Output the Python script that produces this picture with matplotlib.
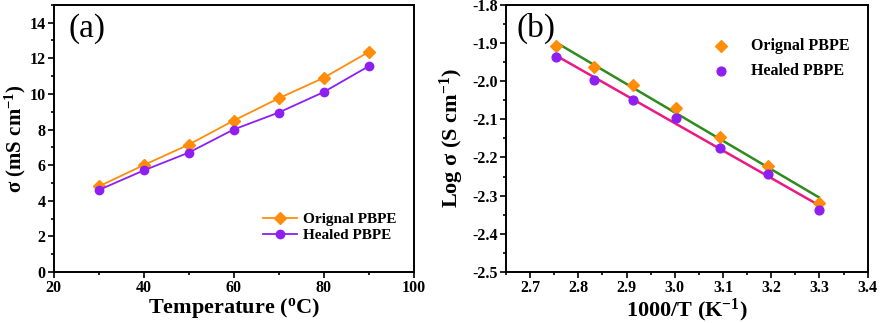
import numpy as np
import matplotlib.pyplot as plt
from matplotlib.ticker import MultipleLocator

plt.rcParams['font.family'] = ['Liberation Serif', 'DejaVu Serif']
plt.rcParams['font.weight'] = 'bold'

# conductivity vs temperature
temp = np.array([30, 40, 50, 60, 70, 80, 90])
sigma_orig = np.array([4.8, 6.0, 7.15, 8.5, 9.75, 10.9, 12.35])      # mS/cm
sigma_healed = np.array([4.6, 5.7, 6.7, 8.0, 8.95, 10.1, 11.55])     # mS/cm

# Arrhenius form
inv_t = 1000.0 / (temp + 273.15)
log_orig = np.log10(sigma_orig * 1e-3)
log_healed = np.log10(sigma_healed * 1e-3)

c_orig = '#ff8c0a'
c_heal = '#8f1ef0'
c_fit_orig = '#2e8b1e'
c_fit_heal = '#ea1a82'

fig = plt.figure(figsize=(8.8, 3.23), dpi=100)
ax1 = fig.add_axes([0.061, 0.158, 0.409, 0.827])
ax2 = fig.add_axes([0.575, 0.158, 0.411, 0.827])


def style(ax):
    for s in ax.spines.values():
        s.set_linewidth(1.4)
    ax.tick_params(which='both', direction='out', top=False, right=False,
                   labelsize=11.5, width=1.2, pad=2)
    ax.tick_params(which='major', length=4)
    ax.tick_params(which='minor', length=2.5)
    for lab in ax.get_xticklabels() + ax.get_yticklabels():
        lab.set_fontweight('bold')


# (a)
ax1.plot(temp, sigma_orig, '-D', color=c_orig, ms=6.5, lw=1.3, label='Orignal PBPE')
ax1.plot(temp, sigma_healed, '-o', color=c_heal, ms=6, lw=1.3, label='Healed PBPE')
ax1.set_xlim(20, 100)
ax1.set_ylim(0, 15)
ax1.xaxis.set_major_locator(MultipleLocator(20))
ax1.xaxis.set_minor_locator(MultipleLocator(10))
ax1.yaxis.set_major_locator(MultipleLocator(2))
ax1.yaxis.set_minor_locator(MultipleLocator(1))
style(ax1)
ax1.set_xlabel('Temperature ($\\mathregular{^o}$C)', fontsize=16, fontweight='bold', labelpad=0)
ax1.set_ylabel('σ (mS cm$\\mathregular{^{-1}}$)', fontsize=15, fontweight='bold', labelpad=1)
ax1.text(0.04, 0.97, '(a)', transform=ax1.transAxes, fontsize=24,
         fontweight='normal', va='top', ha='left')
ax1.legend(loc='lower right', bbox_to_anchor=(0.99, 0.06), frameon=False,
           fontsize=11, handlelength=2.2, handletextpad=0.4, labelspacing=0.15)

# (b)
ax2.scatter(inv_t, log_orig, marker='D', s=36, color=c_orig, label='Orignal PBPE', zorder=3)
ax2.scatter(inv_t, log_healed, marker='o', s=40, color=c_heal, label='Healed PBPE', zorder=3)
xf = np.array([inv_t.min(), inv_t.max()])
for y, c in ((log_orig, c_fit_orig), (log_healed, c_fit_heal)):
    k, b = np.polyfit(inv_t, y, 1)
    ax2.plot(xf, k * xf + b, color=c, lw=1.8, zorder=2)
ax2.set_xlim(2.65, 3.4)
ax2.set_ylim(-2.5, -1.8)
ax2.xaxis.set_major_locator(MultipleLocator(0.1))
ax2.xaxis.set_minor_locator(MultipleLocator(0.05))
ax2.yaxis.set_major_locator(MultipleLocator(0.1))
ax2.yaxis.set_minor_locator(MultipleLocator(0.05))
ax2.xaxis.set_major_formatter(plt.FormatStrFormatter('%.1f'))
ax2.yaxis.set_major_formatter(plt.FormatStrFormatter('%.1f'))
style(ax2)
ax2.set_xlabel('1000/T (K$\\mathregular{^{-1}}$)', fontsize=16, fontweight='bold', labelpad=0)
ax2.set_ylabel('Log σ (S cm$\\mathregular{^{-1}}$)', fontsize=16, fontweight='bold', labelpad=4)
ax2.text(0.03, 0.97, '(b)', transform=ax2.transAxes, fontsize=24,
         fontweight='normal', va='top', ha='left')
ax2.legend(loc='upper right', bbox_to_anchor=(0.99, 0.93), frameon=False,
           fontsize=11.5, handletextpad=0.9, labelspacing=0.55, scatterpoints=1)

fig.savefig('out.png', dpi=100)
